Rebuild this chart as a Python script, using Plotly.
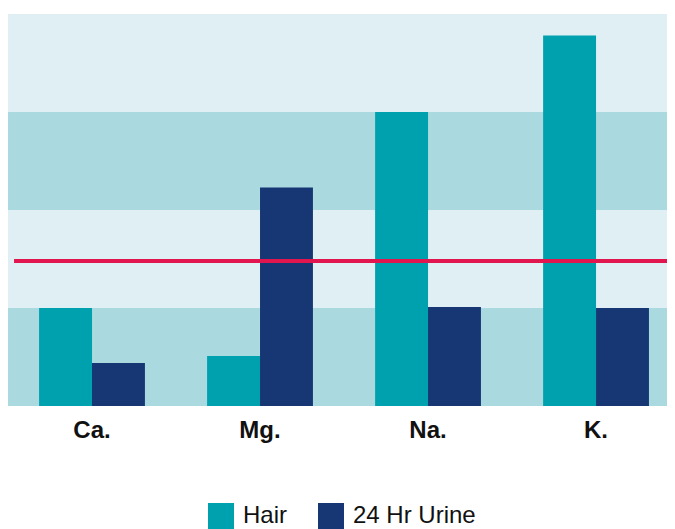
import plotly.graph_objects as go

categories = ["Ca.", "Mg.", "Na.", "K."]
hair = [1.0, 0.51, 3.0, 3.78]
urine = [0.44, 2.23, 1.01, 1.0]
reference_level = 1.48
band_edges = [0, 1, 2, 3, 4]

HAIR_C = "#00a1af"
URINE_C = "#163774"
LIGHT = "#e0eff3"
DARK = "#aad9df"
RED = "#e2164f"
FONT = "Liberation Sans, Arial, Helvetica, sans-serif"

fig = go.Figure()
fig.add_trace(go.Bar(name="Hair", x=categories, y=hair, marker=dict(color=HAIR_C, line=dict(width=0))))
fig.add_trace(go.Bar(name="24 Hr Urine", x=categories, y=urine, marker=dict(color=URINE_C, line=dict(width=0))))

shapes = []
for i in range(len(band_edges) - 1):
    shapes.append(dict(type="rect", xref="paper", yref="y", x0=0, x1=1,
                       y0=band_edges[i], y1=band_edges[i + 1],
                       fillcolor=DARK if i % 2 == 0 else LIGHT, line=dict(width=0), layer="below"))
shapes.append(dict(type="line", xref="x", yref="y", x0=-0.464, x1=3.47,
                   y0=reference_level, y1=reference_level,
                   line=dict(color=RED, width=4), layer="above"))

# custom legend (page pixel positions -> paper coords; plot area 8..675 x, 14..406 y)
PL, PW, PB, PH = 8, 667, 406, 392
legend_items = [("Hair", HAIR_C, 208, 241), ("24 Hr Urine", URINE_C, 318, 351)]
annotations = []
for name, col, sx, tx in legend_items:
    shapes.append(dict(type="rect", xref="paper", yref="paper",
                       x0=(sx - PL) / PW, x1=(sx + 26 - PL) / PW,
                       y0=-(503 - PB) / PH, y1=-(529 - PB) / PH,
                       fillcolor=col, line=dict(width=0)))
    annotations.append(dict(xref="paper", yref="paper", x=(tx - PL) / PW, y=-(514 - PB) / PH,
                            text=name, showarrow=False, xanchor="left", yanchor="middle",
                            font=dict(family=FONT, size=24, color="#111111")))

fig.update_layout(
    width=667, height=529,
    margin=dict(l=0, r=0, t=6, b=131),
    barmode="group", bargap=0.37, bargroupgap=0,
    plot_bgcolor=LIGHT, paper_bgcolor="white",
    showlegend=False,
    shapes=shapes, annotations=annotations,
    xaxis=dict(range=[-0.5, 3.47], showgrid=False, zeroline=False, showline=False,
               ticks="outside", ticklen=2, tickcolor="rgba(0,0,0,0)",
               tickfont=dict(family=FONT, size=24, color="#111111"),
               tickvals=categories, ticktext=["<b>%s</b>" % c for c in categories]),
    yaxis=dict(range=[0, 4], showgrid=False, zeroline=False, showticklabels=False, showline=False),
)

fig.write_html("out.html")
